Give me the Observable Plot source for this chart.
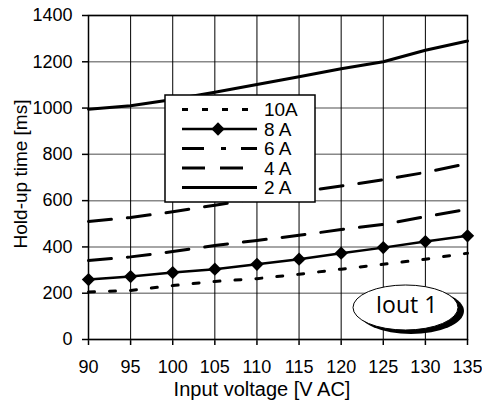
<!DOCTYPE html>
<html>
<head>
<meta charset="utf-8">
<script src="https://cdn.jsdelivr.net/npm/d3@7"></script>
<script src="https://cdn.jsdelivr.net/npm/@observablehq/plot@0.6"></script>
<style>
  html, body { margin: 0; padding: 0; background: #fff; }
  #chart svg { display: block; font-family: "Liberation Sans", Arial, sans-serif; }
</style>
</head>
<body>
<div id="chart"></div>
<script>
const voltages = [90, 95, 100, 105, 110, 115, 120, 125, 130, 135];
const a10 = [205, 212, 233, 251, 263, 282, 304, 325, 347, 373];
const a8  = [259, 272, 289, 304, 325, 347, 373, 397, 423, 448];
const a6  = [341, 357, 380, 406, 428, 450, 475, 497, 531, 563];
const a4  = [510, 527, 552, 580, 610, 637, 663, 690, 722, 760];
const a2  = [995, 1010, 1037, 1068, 1102, 1135, 1170, 1200, 1250, 1290];
const yTicks = [0, 200, 400, 600, 800, 1000, 1200, 1400];
const seriesNames = ["10A", "8 A", "6 A", "4 A", "2 A"];
const xLabel = "Input voltage [V AC]";
const yLabel = "Hold-up time [ms]";
const annotation = "Iout 1";

const toRows = (arr) => voltages.map((v, i) => ({v, t: arr[i]}));
const r10 = toRows(a10), r8 = toRows(a8), r6 = toRows(a6), r4 = toRows(a4), r2 = toRows(a2);

const W = 482, H = 404;
const plot = Plot.plot({
  width: W, height: H,
  marginLeft: 88, marginRight: 15, marginTop: 15, marginBottom: 65,
  style: {fontFamily: '"Liberation Sans", Arial, sans-serif', background: "#fff", color: "#000"},
  x: {domain: [90, 135], ticks: voltages, tickSize: 6, tickPadding: 15, label: null, tickFormat: d => String(d)},
  y: {domain: [0, 1400], ticks: yTicks, tickSize: 6, tickPadding: 10, label: null, tickFormat: d => String(d)},
  marks: [
    Plot.gridY(yTicks, {stroke: "#888", strokeOpacity: 1, strokeWidth: 1.5}),
    Plot.gridX(voltages, {stroke: "#000", strokeOpacity: 1, strokeWidth: 1}),
    Plot.frame({stroke: "#000", strokeWidth: 1.5}),
    Plot.line(r10, {x: "v", y: "t", stroke: "#000", strokeWidth: 3, strokeDasharray: "6,15"}),
    Plot.line(r6, {x: "v", y: "t", stroke: "#000", strokeWidth: 3, strokeDasharray: "23,16"}),
    Plot.line(r4, {x: "v", y: "t", stroke: "#000", strokeWidth: 3, strokeDasharray: "23,16"}),
    Plot.line(r8, {x: "v", y: "t", stroke: "#000", strokeWidth: 2.5}),
    Plot.dot(r8, {x: "v", y: "t", symbol: "diamond2", r: 6, fill: "#000", stroke: "none"}),
    Plot.line(r2, {x: "v", y: "t", stroke: "#000", strokeWidth: 3})
  ]
});
document.getElementById("chart").appendChild(plot);

const svg = d3.select(plot);
svg.selectAll("g[aria-label='x-axis tick label'], g[aria-label='y-axis tick label']")
  .attr("font-size", 18).style("font-size", "18px").attr("fill", "#000");
svg.selectAll("g[aria-label='x-axis tick label'] text, g[aria-label='y-axis tick label'] text")
  .attr("fill", "#000").style("font-size", "18px");
svg.selectAll("g[aria-label='x-axis tick'], g[aria-label='y-axis tick']").attr("stroke", "#000").attr("stroke-width", 1.5);

// Axis titles
svg.append("text").text(xLabel)
  .attr("x", 262).attr("y", 396).attr("text-anchor", "middle")
  .style("font-size", "20px").attr("fill", "#000");
svg.append("text").text(yLabel)
  .attr("transform", "translate(27,174) rotate(-90)").attr("text-anchor", "middle")
  .style("font-size", "19px").attr("fill", "#000");

// Legend
const lg = svg.append("g");
lg.append("rect").attr("x", 165).attr("y", 95).attr("width", 150).attr("height", 107)
  .attr("fill", "#fff").attr("stroke", "#000").attr("stroke-width", 1.5);
const rowsY = [109.5, 129, 148.5, 168, 187.5];
const dashes = ["6,14", null, "22,17,5,15,30", "23,15", null];
const widths = [3, 2.5, 3, 3, 3];
seriesNames.forEach((name, i) => {
  const l = lg.append("line").attr("x1", 182).attr("x2", 257)
    .attr("y1", rowsY[i]).attr("y2", rowsY[i])
    .attr("stroke", "#000").attr("stroke-width", widths[i]);
  if (dashes[i]) l.attr("stroke-dasharray", dashes[i]);
  lg.append("text").text(name).attr("x", 264).attr("y", rowsY[i])
    .attr("dy", "0.36em").attr("text-anchor", "start")
    .style("font-size", "16.5px").attr("textLength", null)
    .attr("transform", `translate(264,${rowsY[i]}) scale(1.15,1.15) translate(-264,${-rowsY[i]})`)
    .attr("fill", "#000");
});
lg.append("path").attr("d", d3.symbol(d3.symbolDiamond2, 6 * 6 * Math.PI)())
  .attr("transform", `translate(218,${rowsY[1]})`).attr("fill", "#000");

// Annotation ellipse with shadow
const an = svg.append("g");
an.append("ellipse").attr("cx", 411).attr("cy", 311).attr("rx", 53).attr("ry", 23).attr("fill", "#000");
an.append("ellipse").attr("cx", 405.5).attr("cy", 307.5).attr("rx", 52.5).attr("ry", 22.5)
  .attr("fill", "#fff").attr("stroke", "#000").attr("stroke-width", 1);
an.append("text").text(annotation).attr("x", 406.5).attr("y", 313)
  .attr("text-anchor", "middle").style("font-family", '"Open Sans", sans-serif')
  .style("font-size", "23px").attr("fill", "#000");
</script>
</body>
</html>
